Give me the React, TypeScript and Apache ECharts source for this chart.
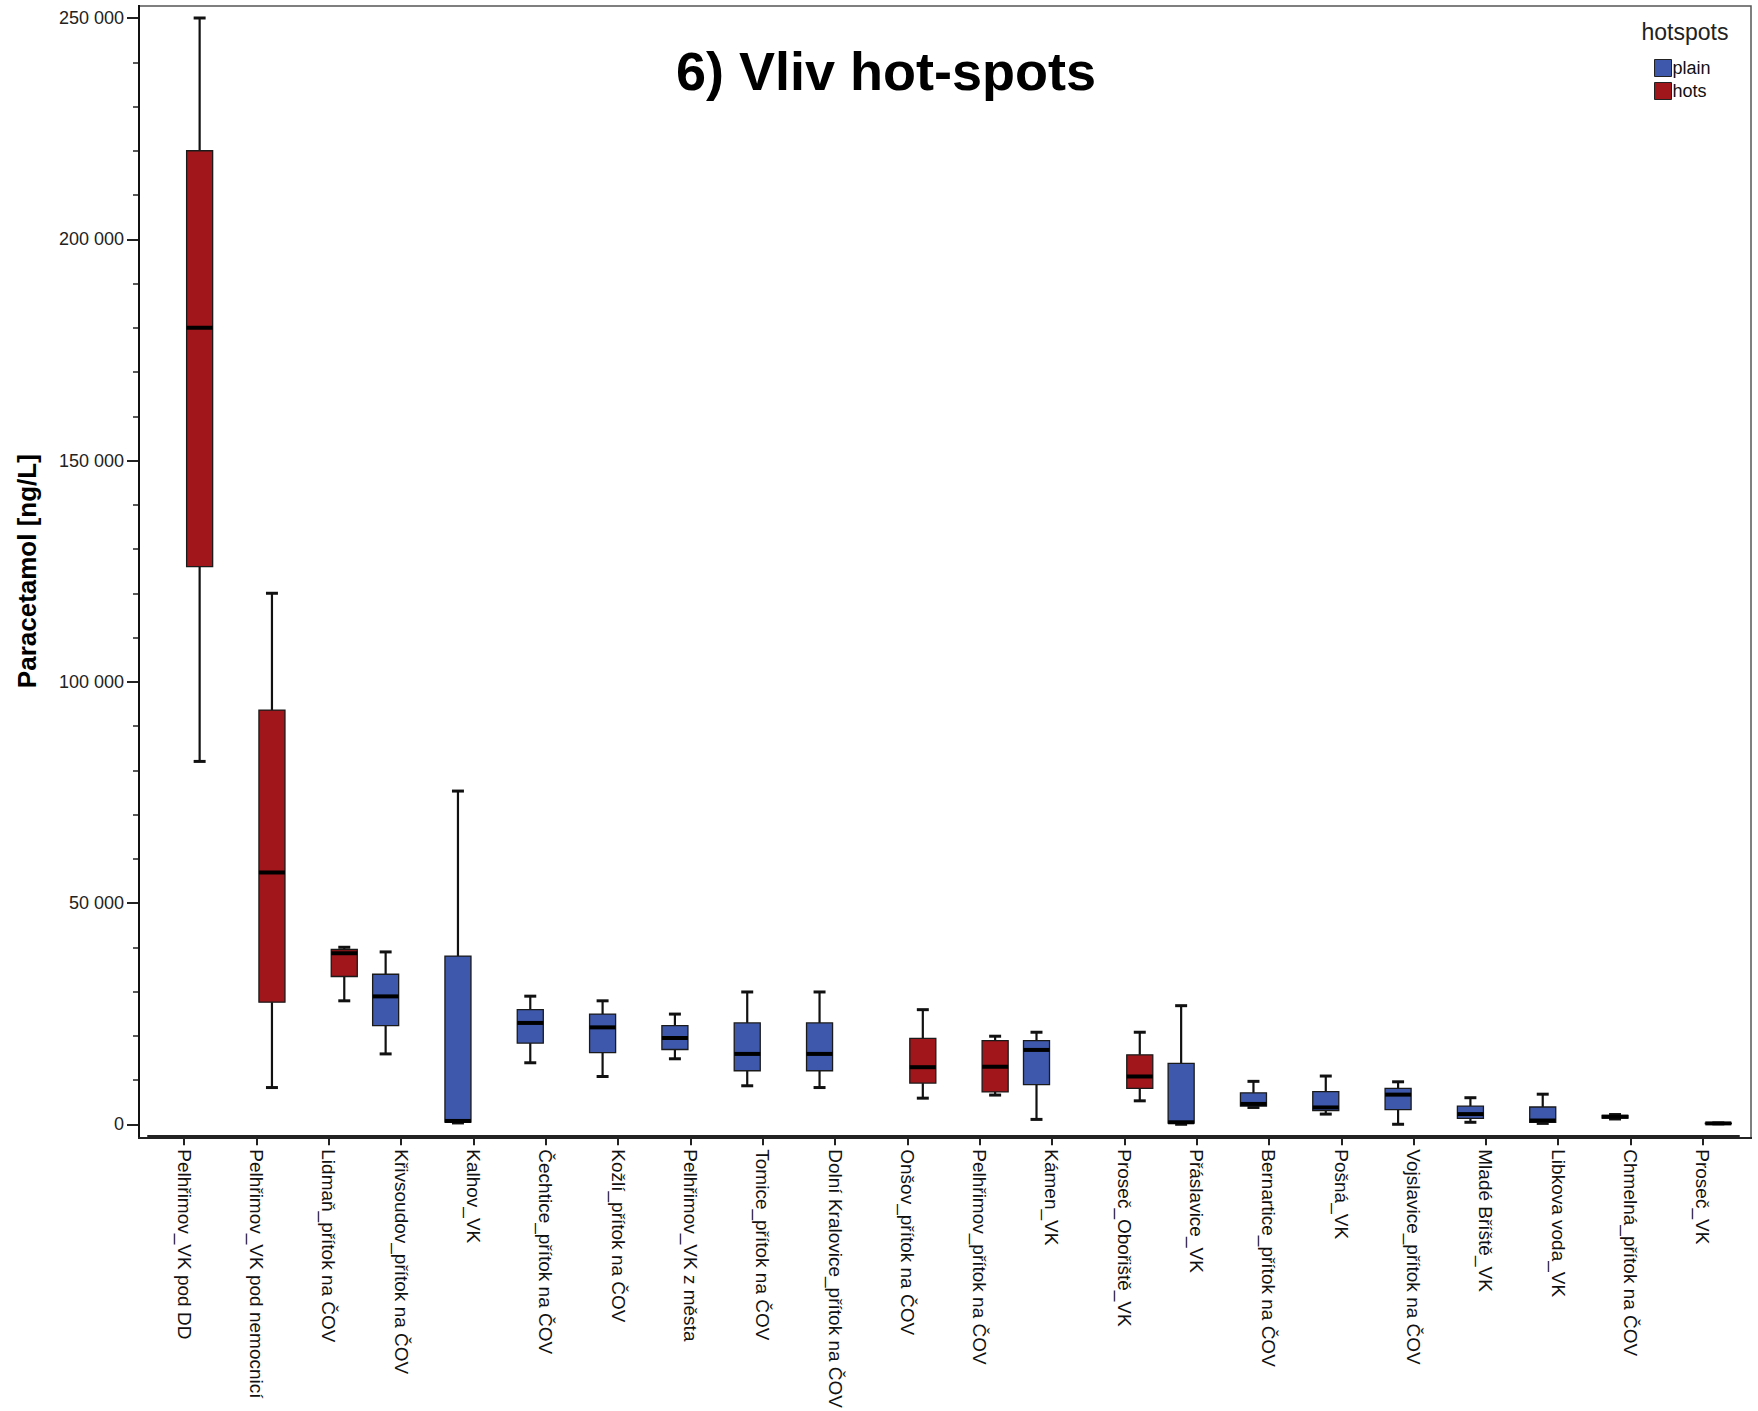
import React, { useEffect, useRef } from "react";
import * as echarts from "echarts";

// Sampling sites, in plotted order
const categories = [
  "Pelhřimov_VK pod DD",
  "Pelhřimov_VK pod nemocnicí",
  "Lidmaň_přítok na ČOV",
  "Křivsoudov_přítok na ČOV",
  "Kalhov_VK",
  "Čechtice_přítok na ČOV",
  "Kožlí_přítok na ČOV",
  "Pelhřimov_VK z města",
  "Tomice_přítok na ČOV",
  "Dolní Kralovice_přítok na ČOV",
  "Onšov_přítok na ČOV",
  "Pelhřimov_přítok na ČOV",
  "Kámen_VK",
  "Proseč_Obořiště_VK",
  "Přáslavice_VK",
  "Bernartice_přítok na ČOV",
  "Pošná_VK",
  "Vojslavice_přítok na ČOV",
  "Mladé Bříště_VK",
  "Libkova voda_VK",
  "Chmelná_přítok na ČOV",
  "Proseč_VK",
];

// hotspots group of each site
const groups = [
  "hots", "hots", "hots", "plain", "plain", "plain", "plain", "plain", "plain", "plain",
  "hots", "hots", "plain", "hots", "plain", "plain", "plain", "plain", "plain", "plain",
  "plain", "hots",
];

// Paracetamol [ng/L] – five-number summaries per site
const minimums = [
  82000, 8300, 27900, 15900, 300, 13900, 10800, 14800, 8700, 8300,
  5900, 6600, 1100, 5300, 0, 3800, 2300, 0, 450, 200, 1200, 100,
];
const lowerQuartiles = [
  126000, 27600, 33400, 22300, 500, 18350, 16200, 16900, 12100, 12100,
  9300, 7300, 8950, 8100, 250, 4100, 3100, 3300, 1350, 450, 1400, 150,
];
const medians = [
  180000, 56900, 38650, 28900, 750, 22900, 21900, 19500, 15900, 15900,
  12900, 13000, 16800, 10800, 450, 4600, 3800, 6700, 2300, 850, 1700, 200,
];
const upperQuartiles = [
  220000, 93600, 39500, 33900, 38000, 25900, 24900, 22300, 22900, 22900,
  19400, 18900, 18900, 15700, 13750, 7100, 7400, 8100, 4100, 3900, 2000, 250,
];
const maximums = [
  250000, 120000, 40000, 38950, 75300, 28950, 27900, 24900, 29900, 29900,
  25900, 19900, 20800, 20800, 26800, 9700, 10900, 9600, 6000, 6800, 2200, 300,
];

const groupNames = ["plain", "hots"];
const groupColors = { plain: "#3E58AC", hots: "#A0161A" };
const yTicks = { min: 0, max: 250000, interval: 50000 };

const FONT = "'Liberation Sans', Arial, Helvetica, sans-serif";

function formatThousands(v: number): string {
  return String(v).replace(/\B(?=(\d{3})+(?!\d))/g, " ");
}

function buildSeriesData(group: string) {
  const out: number[][] = [];
  categories.forEach((_, i) => {
    if (groups[i] === group) {
      out.push([i, minimums[i], lowerQuartiles[i], medians[i], upperQuartiles[i], maximums[i]]);
    }
  });
  return out;
}

// Clustered box: plain sits left of the category centre, hots right
function makeRenderItem(slot: number, color: string) {
  return (params: any, api: any) => {
    const idx = api.value(0);
    const band = api.size([1, 0])[0];
    const boxW = band * 0.36;
    const capW = boxW * 0.46;
    const cx = api.coord([idx, 0])[0] + slot * band * 0.214;
    const yMin = api.coord([idx, api.value(1)])[1];
    const yQ1 = api.coord([idx, api.value(2)])[1];
    const yMed = api.coord([idx, api.value(3)])[1];
    const yQ3 = api.coord([idx, api.value(4)])[1];
    const yMax = api.coord([idx, api.value(5)])[1];
    const whisker = { stroke: "#111", lineWidth: 2.2 };
    const cap = { stroke: "#111", lineWidth: 3 };
    return {
      type: "group",
      children: [
        { type: "line", shape: { x1: cx, y1: yQ3, x2: cx, y2: yMax }, style: whisker },
        { type: "line", shape: { x1: cx, y1: yQ1, x2: cx, y2: yMin }, style: whisker },
        { type: "line", shape: { x1: cx - capW / 2, y1: yMax, x2: cx + capW / 2, y2: yMax }, style: cap },
        { type: "line", shape: { x1: cx - capW / 2, y1: yMin, x2: cx + capW / 2, y2: yMin }, style: cap },
        {
          type: "rect",
          shape: { x: cx - boxW / 2, y: yQ3, width: boxW, height: Math.max(yQ1 - yQ3, 0.5) },
          style: { fill: color, stroke: "#1a1a1a", lineWidth: 1.3 },
        },
        {
          type: "line",
          shape: { x1: cx - boxW / 2, y1: yMed, x2: cx + boxW / 2, y2: yMed },
          style: { stroke: "#000", lineWidth: 4 },
        },
      ],
    };
  };
}

export default function App() {
  const ref = useRef<HTMLDivElement>(null);

  useEffect(() => {
    if (!ref.current) return;
    const chart = echarts.init(ref.current, null, { renderer: "svg" });

    const series = groupNames.map((g, k) => ({
      name: g,
      type: "custom",
      data: buildSeriesData(g),
      encode: { x: 0, y: [1, 2, 3, 4, 5] },
      itemStyle: { color: groupColors[g as "plain" | "hots"] },
      renderItem: makeRenderItem(k === 0 ? -1 : 1, groupColors[g as "plain" | "hots"]),
    }));

    chart.setOption({
      animation: false,
      backgroundColor: "#ffffff",
      grid: { left: 148, right: 19, top: 18, bottom: 284, containLabel: false },
      xAxis: {
        type: "category",
        data: categories,
        offset: 11,
        axisLine: { show: true, onZero: false, lineStyle: { color: "#222", width: 2 } },
        axisTick: { show: true, alignWithLabel: true, length: 10, lineStyle: { color: "#222", width: 2 } },
        axisLabel: {
          rotate: -90,
          interval: 0,
          margin: 14,
          color: "#111",
          fontFamily: FONT,
          fontSize: 19,
        },
        splitLine: { show: false },
      },
      yAxis: {
        type: "value",
        min: yTicks.min,
        max: yTicks.max,
        interval: yTicks.interval,
        offset: 9,
        name: "Paracetamol [ng/L]",
        nameLocation: "middle",
        nameRotate: 90,
        nameGap: 99,
        nameTextStyle: { fontFamily: FONT, fontSize: 26, fontWeight: "bold", color: "#000" },
        axisLine: { show: false, onZero: false },
        axisTick: { show: true, length: 12, lineStyle: { color: "#222", width: 2 } },
        minorTick: { show: true, splitNumber: 5, length: 6, lineStyle: { color: "#222", width: 1.5 } },
        axisLabel: {
          margin: 15,
          color: "#222",
          fontFamily: FONT,
          fontSize: 18,
          padding: [9, 0, 0, 0],
          formatter: (v: number) => formatThousands(v),
        },
        splitLine: { show: false },
      },
      legend: {
        data: groupNames,
        orient: "vertical",
        left: 1649,
        top: 54,
        itemWidth: 17,
        itemHeight: 17,
        itemGap: 5,
        icon: "rect",
        itemStyle: { borderColor: "#222", borderWidth: 1 },
        textStyle: { fontFamily: FONT, fontSize: 18, color: "#111", padding: [0, 0, 0, -4] },
        selectedMode: false,
      },
      graphic: [
        {
          type: "rect",
          silent: true,
          shape: { x: 139, y: 6, width: 1612, height: 1132 },
          style: { fill: "none", stroke: "#555", lineWidth: 1.5 },
          z: 1,
        },
        {
          type: "line",
          silent: true,
          shape: { x1: 139, y1: 5, x2: 139, y2: 1139 },
          style: { stroke: "#111", lineWidth: 2 },
          z: 2,
        },
        {
          type: "line",
          silent: true,
          shape: { x1: 138, y1: 1138, x2: 1752, y2: 1138 },
          style: { stroke: "#222", lineWidth: 2 },
          z: 2,
        },
        {
          type: "text",
          silent: true,
          style: {
            text: "6) Vliv hot-spots",
            x: 886,
            y: 71,
            align: "center",
            verticalAlign: "middle",
            textAlign: "center",
            textVerticalAlign: "middle",
            font: `bold 54px ${FONT}`,
            fill: "#000",
          },
        },
        {
          type: "text",
          silent: true,
          style: {
            text: "hotspots",
            x: 1685,
            y: 32,
            align: "center",
            verticalAlign: "middle",
            textAlign: "center",
            textVerticalAlign: "middle",
            font: `23px ${FONT}`,
            fill: "#222",
          },
        },
      ],
      series,
    });

    return () => chart.dispose();
  }, []);

  return (
    <div
      ref={ref}
      style={{ position: "fixed", left: 0, top: 0, width: 1758, height: 1411, background: "#fff" }}
    />
  );
}
